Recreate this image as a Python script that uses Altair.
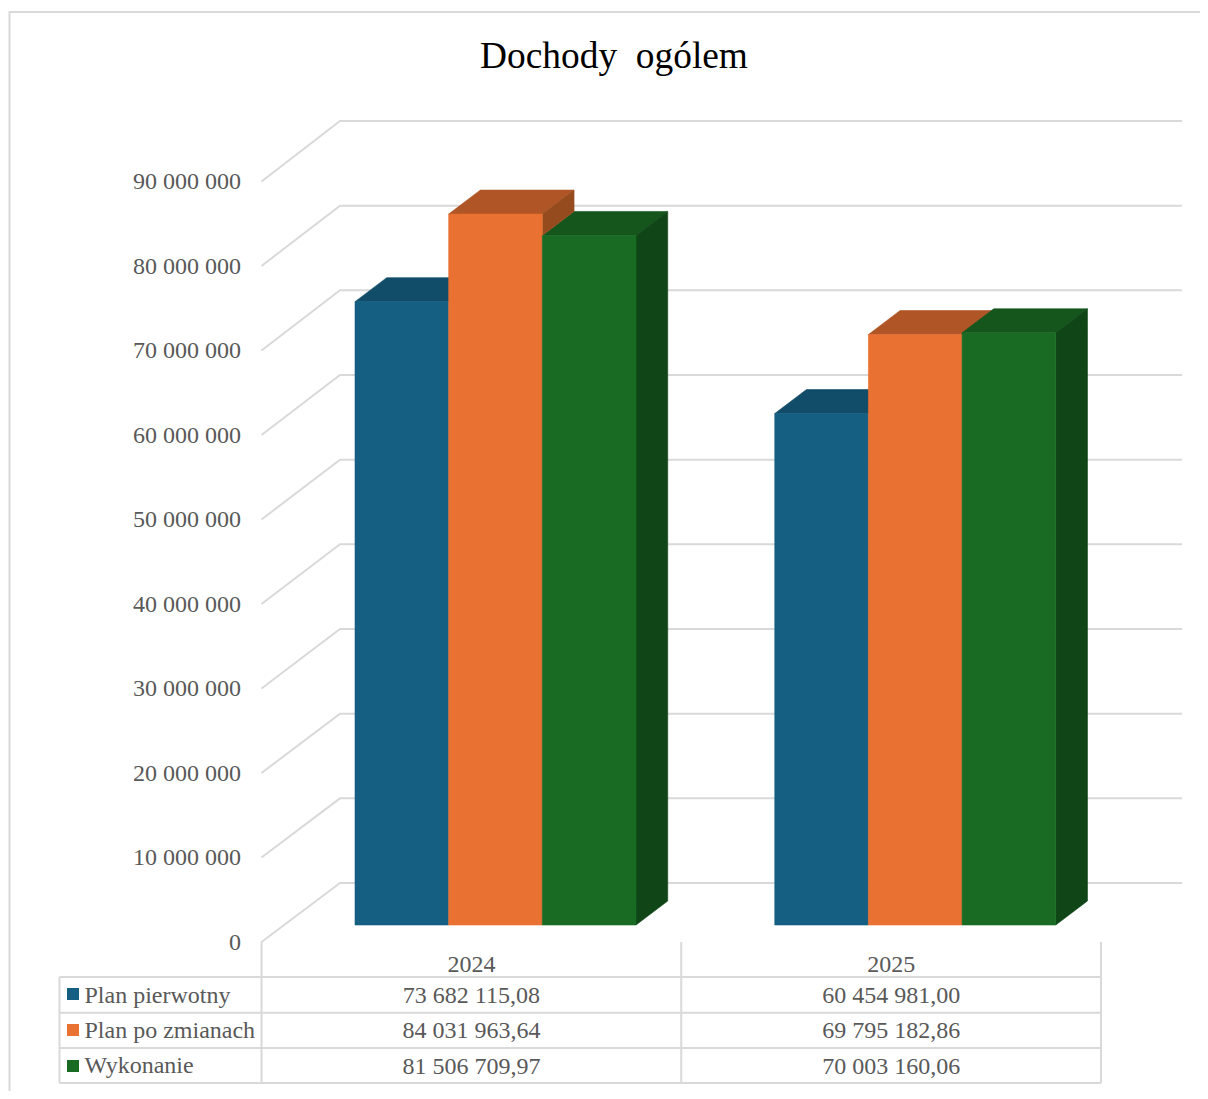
import altair as alt
import pandas as pd

# ---------- chart values ----------
title_text = "Dochody \u00a0ogólem"
years = ["2024", "2025"]
series = ["Plan pierwotny", "Plan po zmianach", "Wykonanie"]
plan_pierwotny = [73682115.08, 60454981.00]
plan_po_zmianach = [84031963.64, 69795182.86]
wykonanie = [81506709.97, 70003160.06]
table_pierwotny = ["73 682 115,08", "60 454 981,00"]
table_zmiany = ["84 031 963,64", "69 795 182,86"]
table_wykonanie = ["81 506 709,97", "70 003 160,06"]
tick_values = [0, 10000000, 20000000, 30000000, 40000000, 50000000, 60000000, 70000000, 80000000, 90000000]
tick_labels = ["0", "10 000 000", "20 000 000", "30 000 000", "40 000 000", "50 000 000",
               "60 000 000", "70 000 000", "80 000 000", "90 000 000"]
front_colors = ["#156082", "#E97132", "#196B24"]
top_colors = ["#114D68", "#B05626", "#14561C"]
side_colors = ["#0E3E54", "#964B1F", "#0F4517"]
grid_color = "#D9D9D9"
text_color = "#595959"

# ---------- geometry: picture position -> scale units ----------
W, H = 1192, 1083
PX_PER_CAT = 419.75
PX_PER_UNIT = 8.46e-6


def cx(px):
    return (px - 261.5) / PX_PER_CAT


def vy(py):
    return (925 - py) / PX_PER_UNIT


x_scale = alt.Scale(domain=[cx(8), cx(8 + W)], nice=False, zero=False)
y_scale = alt.Scale(domain=[vy(8 + H), vy(8)], nice=False, zero=False)
X = alt.X("x:Q", scale=x_scale, axis=None)
Y = alt.Y("y:Q", scale=y_scale, axis=None)

BAR_START = cx(355)
BAR_W = 93.67 / PX_PER_CAT
DEPTH_X = 31.7 / PX_PER_CAT
DEPTH_Y = 24 / PX_PER_UNIT
FLOOR_X = 78.5 / PX_PER_CAT
WALL_ZERO = vy(883)
FRONT_ZERO = vy(942)
WALL_STEP = 84.67 / PX_PER_UNIT / 10000000

# ---------- grid + frame + table lines ----------
lines = []


def polyline(name, points):
    for o, (a, b) in enumerate(points):
        lines.append({"id": name, "o": o, "x": a, "y": b})


for t in tick_values:
    polyline(f"g{t}", [(0, FRONT_ZERO + t * WALL_STEP * 0.998),
                       (FLOOR_X, WALL_ZERO + t * WALL_STEP),
                       (cx(1182), WALL_ZERO + t * WALL_STEP)])
polyline("frame", [(cx(9.5), vy(8 + H)), (cx(9.5), vy(12)), (cx(8 + W), vy(12))])
row_lines = [977, 1012.7, 1048, 1083]
for i, r in enumerate(row_lines):
    polyline(f"r{i}", [(cx(59.5), vy(r)), (2, vy(r))])
polyline("c0", [(cx(59.5), vy(977)), (cx(59.5), vy(1083))])
for i in range(3):
    polyline(f"v{i}", [(i, FRONT_ZERO), (i, vy(1083))])
lines_df = pd.DataFrame(lines)

line_layer = alt.Chart(lines_df).mark_line(color=grid_color, strokeWidth=2).encode(
    x=X, y=Y, detail="id:N", order="o:Q")

# ---------- bars ----------
all_values = [plan_pierwotny, plan_po_zmianach, wykonanie]
fronts, tops, sides = [], [], []
for c in range(len(years)):
    for s in range(len(series)):
        v = all_values[s][c]
        x0 = c + BAR_START + s * BAR_W
        x1 = x0 + BAR_W
        fronts.append({"x": x0, "x2": x1, "y": v, "y2": 0, "fill": front_colors[s]})
        key = f"{c}-{s}"
        tops.append({"id": key, "y": v, "x": x0, "x2": x1, "fill": top_colors[s]})
        tops.append({"id": key, "y": v + DEPTH_Y, "x": x0 + DEPTH_X, "x2": x1 + DEPTH_X, "fill": top_colors[s]})
        low = all_values[s + 1][c] if s + 1 < len(series) else 0
        if low < v:
            sides.append({"id": key, "x": x1, "y": v, "y2": low, "fill": side_colors[s]})
            sides.append({"id": key, "x": x1 + DEPTH_X, "y": v + DEPTH_Y, "y2": low + DEPTH_Y, "fill": side_colors[s]})

FILL = alt.Color("fill:N", scale=None, legend=None)
EDGE = alt.Stroke("fill:N", scale=None, legend=None)
top_layer = alt.Chart(pd.DataFrame(tops)).mark_area(orient="horizontal", strokeWidth=0.6).encode(
    y=Y, x=alt.X("x:Q", scale=x_scale, axis=None, stack=None), x2="x2:Q", detail="id:N", color=FILL, stroke=EDGE)
side_layer = alt.Chart(pd.DataFrame(sides)).mark_area(orient="vertical", strokeWidth=0.6).encode(
    x=X, y=alt.Y("y:Q", scale=y_scale, axis=None, stack=None), y2="y2:Q", detail="id:N", color=FILL, stroke=EDGE)
front_layer = alt.Chart(pd.DataFrame(fronts)).mark_rect(strokeWidth=0.6).encode(
    x=X, x2="x2:Q", y=Y, y2="y2:Q", color=FILL, stroke=EDGE)

# ---------- legend keys ----------
row_centres = [994, 1030, 1066]
keys_df = pd.DataFrame({"x": [cx(73)] * 3, "y": [vy(r) for r in row_centres], "fill": front_colors})
key_layer = alt.Chart(keys_df).mark_square(size=144, opacity=1).encode(x=X, y=Y, color=FILL)


# ---------- text ----------
def text_layer(rows, align, size, color):
    return alt.Chart(pd.DataFrame(rows)).mark_text(
        align=align, baseline="middle", font="Liberation Serif", fontSize=size, color=color
    ).encode(x=X, y=Y, text="t:N")


tick_rows = [{"x": cx(241), "y": FRONT_ZERO + v * WALL_STEP * 0.998 - 1 / PX_PER_UNIT, "t": l}
             for v, l in zip(tick_values, tick_labels)]
label_rows = [{"x": cx(84.5), "y": vy(r), "t": s} for r, s in zip([995.5, 1030.5, 1065.5], series)]
cell_rows = []
for c, yr in enumerate(years):
    cx_mid = c + 0.5
    cell_rows.append({"x": cx_mid, "y": vy(964.5), "t": yr})
    for r, col in zip([995.5, 1031, 1066.5], [table_pierwotny, table_zmiany, table_wykonanie]):
        cell_rows.append({"x": cx_mid, "y": vy(r), "t": col[c]})
title_rows = [{"x": cx(614), "y": vy(56.5), "t": title_text}]

chart = alt.layer(
    line_layer, top_layer, side_layer, front_layer, key_layer,
    text_layer(tick_rows, "right", 24, text_color),
    text_layer(label_rows, "left", 24, text_color),
    text_layer(cell_rows, "center", 24, text_color),
    text_layer(title_rows, "center", 37.4, "#000000"),
).properties(
    width=W, height=H, padding=0,
    autosize=alt.AutoSizeParams(type="none"), background="#FFFFFF"
).configure_view(stroke=None)

chart.save("out.html", embed_options={"renderer": "svg", "actions": False})
